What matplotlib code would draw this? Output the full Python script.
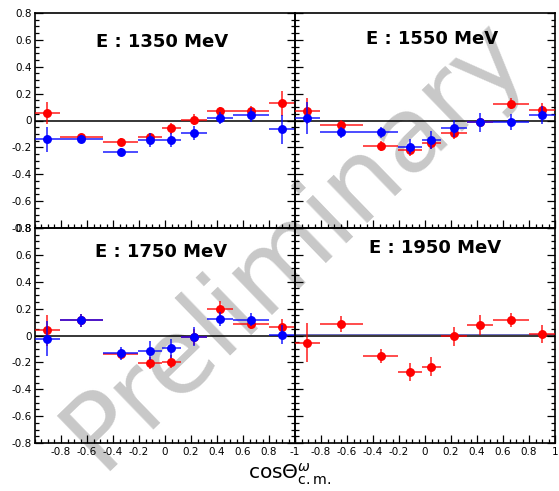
import matplotlib
matplotlib.use('Agg')
import matplotlib.pyplot as plt
import matplotlib.transforms as mtransforms
from matplotlib.ticker import MultipleLocator, FixedLocator, FuncFormatter

plt.rcParams['axes.unicode_minus'] = False
plt.rcParams['font.family'] = ['DejaVu Sans']

# ---------------- data ----------------
energies = ['1350', '1550', '1750', '1950']

bin_centers = [-0.905, -0.6425, -0.34, -0.115, 0.0475, 0.22, 0.4225, 0.6625, 0.90]
bin_halfwidths = [0.095, 0.1675, 0.135, 0.09, 0.0725, 0.10, 0.1025, 0.1375, 0.10]

red_1350 = [0.055, -0.12, -0.157, -0.12, -0.057, 0.005, 0.067, 0.067, 0.127]
red_1350_err = [0.083, 0.02, 0.025, 0.025, 0.04, 0.04, 0.037, 0.04, 0.093]
blue_1350 = [-0.139, -0.139, -0.231, -0.144, -0.144, -0.094, 0.017, 0.042, -0.065]
blue_1350_err = [0.093, 0.03, 0.025, 0.05, 0.05, 0.05, 0.046, 0.05, 0.108]

red_1550 = [0.071, -0.031, -0.192, -0.22, -0.17, -0.095, -0.008, 0.125, 0.08]
red_1550_err = [0.095, 0.037, 0.037, 0.043, 0.043, 0.043, 0.03, 0.043, 0.05]
blue_1550 = [0.021, -0.088, -0.088, -0.195, -0.145, -0.058, -0.013, -0.011, 0.041]
blue_1550_err = [0.12, 0.043, 0.043, 0.056, 0.068, 0.062, 0.07, 0.056, 0.068]

red_1750 = [0.0375, 0.1125, -0.1375, -0.2075, -0.195, -0.0125, 0.195, 0.0875, 0.0625]
red_1750_err = [0.115, 0.05, 0.04, 0.045, 0.05, 0.06, 0.06, 0.04, 0.06]
blue_1750 = [-0.025, 0.1125, -0.1325, -0.1125, -0.095, -0.0075, 0.1225, 0.1175, 0.005]
blue_1750_err = [0.13, 0.05, 0.05, 0.07, 0.07, 0.07, 0.05, 0.05, 0.07]

red_1950 = [-0.0525, 0.0875, -0.15, -0.2725, -0.2325, -0.005, 0.08, 0.1125, 0.0125]
red_1950_err = [0.145, 0.06, 0.053, 0.068, 0.072, 0.07, 0.075, 0.052, 0.067]

red_series = [(red_1350, red_1350_err), (red_1550, red_1550_err),
              (red_1750, red_1750_err), (red_1950, red_1950_err)]
blue_series = [(blue_1350, blue_1350_err), (blue_1550, blue_1550_err),
               (blue_1750, blue_1750_err), None]

y_ticks = [-0.8, -0.6, -0.4, -0.2, 0, 0.2, 0.4, 0.6, 0.8]
x_ticks_left = [-0.8, -0.6, -0.4, -0.2, 0, 0.2, 0.4, 0.6, 0.8]
x_ticks_right = [-1, -0.8, -0.6, -0.4, -0.2, 0, 0.2, 0.4, 0.6, 0.8, 1]

# ---------------- figure ----------------
W, H = 559, 491
fig = plt.figure(figsize=(W / 100, H / 100), dpi=100)

x0, xm, x1 = 35, 295, 555
y0, ym, y1 = 13, 228, 443
pw = (xm - x0) / W
ph = (ym - y0) / H
positions = [
    [x0 / W, 1 - ym / H, pw, ph],
    [xm / W, 1 - ym / H, pw, ph],
    [x0 / W, 1 - y1 / H, pw, ph],
    [xm / W, 1 - y1 / H, pw, ph],
]
title_pos = [(0.49, 0.865), (0.527, 0.88), (0.485, 0.89), (0.537, 0.905)]

fmt = FuncFormatter(lambda v, p: f'{v:g}')

for i, pos in enumerate(positions):
    ax = fig.add_axes(pos)
    ax.set_facecolor('none')
    ax.set_xlim(-1, 1)
    ax.set_ylim(-0.8, 0.8)
    ax.axhline(0, color='black', lw=1.1, zorder=1)
    if i == 3:
        off = mtransforms.offset_copy(ax.transData, fig=fig, x=0, y=1.2, units='dots')
        ax.plot([-1, 1], [0, 0], color='#3030a0', lw=0.5, transform=off, zorder=0.9)

    r, re = red_series[i]
    ax.errorbar(bin_centers, r, xerr=bin_halfwidths, yerr=re, fmt='o',
                color='red', ms=5.4, elinewidth=1.4, ecolor=(1, 0, 0, 0.7),
                capsize=0, zorder=3)
    if blue_series[i] is not None:
        b, be = blue_series[i]
        ax.errorbar(bin_centers, b, xerr=bin_halfwidths, yerr=be, fmt='o',
                    color='blue', ms=5.4, elinewidth=1.4, ecolor=(0, 0, 1, 0.7),
                    capsize=0, zorder=4)

    ax.text(title_pos[i][0], title_pos[i][1], f'E : {energies[i]} MeV',
            transform=ax.transAxes, ha='center', va='center',
            fontsize=13, fontweight='bold', color='black')

    ax.yaxis.set_major_locator(FixedLocator(y_ticks))
    ax.yaxis.set_minor_locator(MultipleLocator(0.05))
    ax.yaxis.set_major_formatter(fmt)
    if i in (0, 2):
        ax.xaxis.set_major_locator(FixedLocator(x_ticks_left))
    else:
        ax.xaxis.set_major_locator(FixedLocator(x_ticks_right))
    ax.xaxis.set_minor_locator(MultipleLocator(0.05))
    ax.xaxis.set_major_formatter(fmt)

    ax.tick_params(which='both', direction='in', top=False, right=True,
                   color='black', width=0.9)
    ax.tick_params(which='major', length=6)
    ax.tick_params(which='minor', length=3)
    ax.tick_params(axis='y', labelsize=7.5, pad=2)
    ax.tick_params(axis='x', labelsize=7.5, pad=3)

    if i in (1, 3):
        ax.tick_params(axis='y', labelleft=False)
    if i in (0, 1):
        ax.tick_params(axis='x', labelbottom=False)

    for s in ax.spines.values():
        s.set_linewidth(1.2)
        s.set_color('black')

fig.text(290 / W, 1 - 474 / H, r'cos$\Theta^{\omega}_{\rm c.m.}$',
         ha='center', va='center', fontsize=14.5)

fig.text(295 / W, 1 - 243 / H, 'Preliminary', rotation=44,
         rotation_mode='anchor', ha='center', va='center',
         fontsize=76, color='#c8c8c8', zorder=-1)

fig.savefig('out.png', dpi=100)
